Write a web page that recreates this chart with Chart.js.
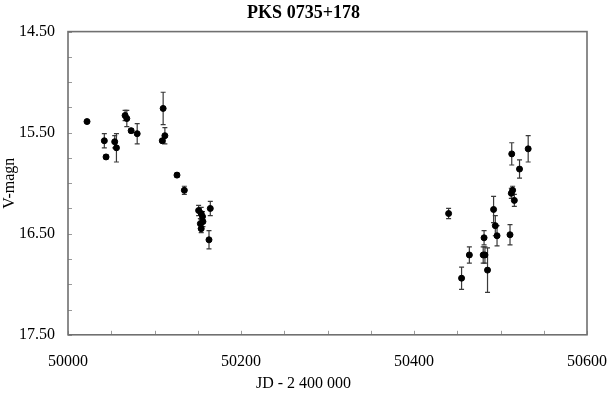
<!DOCTYPE html>
<html>
<head>
<meta charset="utf-8">
<script src="https://cdn.jsdelivr.net/npm/chart.js@4"></script>
<style>
  body { margin: 0; background: #fff; }
</style>
</head>
<body>
<canvas id="lc" width="607" height="393"></canvas>
<script>
// light curve values
const jd = [50022, 50042, 50044, 50054, 50056, 50066, 50068, 50073, 50080, 50110, 50109, 50112, 50126, 50134.5,
  50151, 50154, 50155.5, 50153, 50156, 50154, 50164.5, 50163,
  50440, 50455, 50464, 50481, 50480, 50482, 50485, 50492, 50494, 50496, 50511, 50512.5, 50514, 50516, 50513, 50522, 50532];
const mag = [15.39, 15.58, 15.74, 15.59, 15.65, 15.33, 15.36, 15.48, 15.51, 15.26, 15.58, 15.53, 15.92, 16.07,
  16.27, 16.30, 16.33, 16.40, 16.38, 16.45, 16.25, 16.56,
  16.30, 16.94, 16.71, 16.54, 16.71, 16.71, 16.86, 16.26, 16.42, 16.52, 16.51, 16.10, 16.07, 16.17, 15.71, 15.86, 15.66];
const err = [0.01, 0.07, 0.02, 0.06, 0.14, 0.05, 0.08, 0.02, 0.10, 0.16, 0.02, 0.08, 0.02, 0.04,
  0.05, 0.06, 0.05, 0.05, 0.05, 0.04, 0.07, 0.09,
  0.05, 0.11, 0.08, 0.07, 0.08, 0.08, 0.22, 0.13, 0.10, 0.10, 0.10, 0.05, 0.04, 0.06, 0.11, 0.09, 0.13];

const yTicks = ['14.50', '15.50', '16.50', '17.50'];
const xTicks = ['50000', '50200', '50400', '50600'];

const serif = 'Liberation Serif';

// error bars under the points
const errorBars = {
  id: 'errorBars',
  beforeDatasetsDraw(chart) {
    const { ctx, scales: { x, y } } = chart;
    ctx.save();
    ctx.strokeStyle = '#3a3a3a';
    ctx.lineWidth = 1.2;
    jd.forEach((d, i) => {
      const px = x.getPixelForValue(d);
      const top = y.getPixelForValue(mag[i] - err[i]);
      const bot = y.getPixelForValue(mag[i] + err[i]);
      ctx.beginPath();
      ctx.moveTo(px, top); ctx.lineTo(px, bot);
      ctx.moveTo(px - 2.5, top); ctx.lineTo(px + 2.5, top);
      ctx.moveTo(px - 2.5, bot); ctx.lineTo(px + 2.5, bot);
      ctx.stroke();
    });
    ctx.restore();
  }
};

// grey frame with small inward ticks
const frame = {
  id: 'frame',
  beforeDatasetsDraw(chart) {
    const { ctx, chartArea: a, scales: { x, y } } = chart;
    ctx.save();
    ctx.strokeStyle = '#9a9a9a';
    ctx.lineWidth = 1;
    ctx.beginPath();
    x.ticks.forEach(t => {
      const px = Math.round(x.getPixelForValue(t.value)) + 0.5;
      ctx.moveTo(px, a.bottom); ctx.lineTo(px, a.bottom - 4);
    });
    y.ticks.forEach(t => {
      const py = Math.round(y.getPixelForValue(t.value)) + 0.5;
      ctx.moveTo(a.left, py); ctx.lineTo(a.left + 4, py);
    });
    ctx.stroke();
    ctx.strokeStyle = '#707070';
    ctx.lineWidth = 1.6;
    ctx.strokeRect(a.left, a.top, a.right - a.left, a.bottom - a.top);
    ctx.restore();
  }
};

new Chart(document.getElementById('lc'), {
  type: 'scatter',
  data: {
    datasets: [{
      data: jd.map((d, i) => ({ x: d, y: mag[i] })),
      backgroundColor: '#000',
      borderColor: '#000',
      pointRadius: 3,
      pointHoverRadius: 3
    }]
  },
  options: {
    responsive: false,
    animation: false,
    devicePixelRatio: 1,
    layout: { padding: { left: 0, right: 0, top: 0, bottom: 0 } },
    plugins: {
      legend: { display: false },
      tooltip: { enabled: false },
      title: {
        display: true,
        text: 'PKS 0735+178',
        color: '#000',
        font: { family: serif, size: 18, weight: 'bold' },
        padding: { top: 3, bottom: 7 }
      },
      subtitle: {
        display: true,
        position: 'bottom',
        text: 'JD - 2 400 000',
        color: '#000',
        font: { family: serif, size: 16 },
        padding: { top: 1, bottom: 0 }
      }
    },
    scales: {
      x: {
        type: 'linear',
        min: 50000,
        max: 50600,
        grid: { display: false, drawTicks: false },
        border: { display: false },
        ticks: {
          stepSize: 50,
          autoSkip: false,
          maxRotation: 0,
          padding: 17,
          color: '#000',
          font: { family: serif, size: 16 },
          callback: v => xTicks.includes(String(v)) ? String(v) : ''
        },
        afterFit: s => { s.height = 38; s.paddingLeft = 0; s.paddingRight = 20; }
      },
      y: {
        reverse: true,
        min: 14.5,
        max: 17.5,
        grid: { display: false, drawTicks: false },
        border: { display: false },
        title: {
          display: true,
          text: 'V-magn',
          color: '#000',
          font: { family: serif, size: 16 },
          padding: { top: 0, bottom: 0 }
        },
        ticks: {
          stepSize: 0.25,
          autoSkip: false,
          padding: 13,
          color: '#000',
          font: { family: serif, size: 16 },
          callback: v => yTicks.includes(v.toFixed(2)) ? v.toFixed(2) : ''
        },
        afterFit: s => { s.width = 68; }
      }
    }
  },
  plugins: [errorBars, frame]
});
</script>
</body>
</html>
